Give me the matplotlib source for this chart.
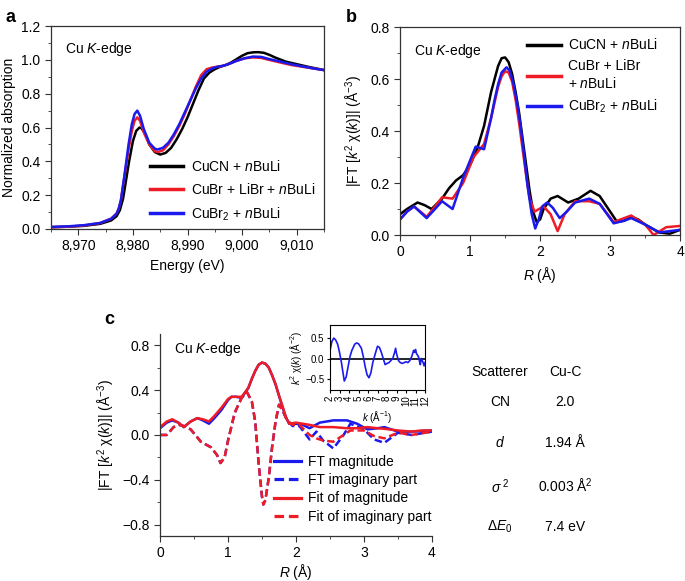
import numpy as np
import matplotlib
matplotlib.use("Agg")
import matplotlib.pyplot as plt
from matplotlib.ticker import MultipleLocator, FuncFormatter

plt.rcParams['font.family'] = ['Liberation Sans', 'DejaVu Sans']
plt.rcParams['font.size'] = 10
plt.rcParams['mathtext.fontset'] = 'custom'
plt.rcParams['mathtext.rm'] = 'Liberation Sans'
plt.rcParams['mathtext.it'] = 'Liberation Sans:italic'
plt.rcParams['xtick.direction'] = 'out'
plt.rcParams['ytick.direction'] = 'out'

# ---- panel a : XANES ----
e_cucn = [8965, 8968, 8971, 8974, 8976, 8977, 8977.6, 8978.2, 8978.7, 8979.3, 8980, 8980.6, 8981.2, 8981.6,
          8982.2, 8983, 8984, 8985, 8986, 8987, 8988, 8989, 8990, 8991, 8992, 8993, 8994, 8995,
          8996, 8997, 8998, 8999, 9000, 9001, 9002, 9003, 9004, 9005, 9006, 9008, 9010, 9012, 9015]
a_cucn = [0.01, 0.013, 0.018, 0.03, 0.05, 0.075, 0.11, 0.18, 0.28, 0.40, 0.52, 0.58, 0.60, 0.595,
          0.565, 0.50, 0.455, 0.44, 0.45, 0.48, 0.53, 0.59, 0.66, 0.74, 0.82, 0.89, 0.925, 0.945,
          0.96, 0.97, 0.985, 1.005, 1.025, 1.04, 1.045, 1.046, 1.042, 1.03, 1.015, 0.99, 0.975, 0.96, 0.94]
e_cubr = [8965, 8968, 8971, 8974, 8976, 8977, 8977.4, 8977.8, 8978.5, 8979.2, 8979.8, 8980.3, 8980.8, 8981.3,
          8982, 8983, 8984, 8984.6, 8985.5, 8986.5, 8987.5, 8988.5, 8989.5, 8990.5, 8991.5, 8992.5,
          8993.5, 8994.5, 8995.5, 8996.5, 8997.5, 8999, 9000.5, 9002, 9003.5, 9005, 9007, 9009, 9011, 9013, 9015]
a_cubr = [0.01, 0.013, 0.02, 0.035, 0.06, 0.09, 0.12, 0.17, 0.32, 0.47, 0.58, 0.64, 0.66, 0.64,
          0.57, 0.50, 0.46, 0.455, 0.465, 0.50, 0.55, 0.61, 0.68, 0.76, 0.84, 0.91,
          0.945, 0.955, 0.96, 0.965, 0.975, 0.995, 1.01, 1.015, 1.012, 1.0, 0.985, 0.97, 0.96, 0.95, 0.94]
e_cubr2 = [8965, 8968, 8971, 8974, 8976, 8977, 8977.4, 8977.8, 8978.5, 8979.2, 8979.8, 8980.3, 8980.8, 8981.3,
           8982, 8983, 8984, 8984.5, 8985.5, 8986.5, 8987.5, 8988.5, 8989.5, 8990.5, 8991.5, 8992.5,
           8993.5, 8994.5, 8995.5, 8996.5, 8997.5, 8999, 9000.5, 9002, 9003.5, 9005, 9007, 9009, 9011, 9013, 9015]
a_cubr2 = [0.012, 0.015, 0.022, 0.035, 0.06, 0.09, 0.12, 0.17, 0.33, 0.50, 0.62, 0.68, 0.70, 0.67,
           0.59, 0.51, 0.475, 0.47, 0.48, 0.51, 0.56, 0.62, 0.69, 0.76, 0.83, 0.89,
           0.93, 0.95, 0.96, 0.965, 0.975, 0.995, 1.01, 1.02, 1.018, 1.005, 0.99, 0.975, 0.962, 0.95, 0.94]

# ---- panel b : FT magnitude ----
r_b_cucn = [0, 0.1, 0.25, 0.35, 0.45, 0.6, 0.7, 0.8, 0.9, 1.0, 1.1, 1.2, 1.3, 1.35, 1.4, 1.45, 1.5, 1.55, 1.6,
            1.65, 1.7, 1.75, 1.8, 1.85, 1.9, 1.95, 2.0, 2.05, 2.15, 2.25, 2.4, 2.55, 2.72, 2.85, 3.0, 3.1,
            3.2, 3.3, 3.4, 3.5, 3.7, 3.85, 4.0]
m_b_cucn = [0.08, 0.10, 0.125, 0.115, 0.10, 0.14, 0.18, 0.21, 0.23, 0.27, 0.33, 0.42, 0.55, 0.60, 0.65, 0.68, 0.683, 0.665, 0.62,
            0.55, 0.47, 0.37, 0.27, 0.17, 0.09, 0.05, 0.06, 0.10, 0.14, 0.15, 0.125, 0.14, 0.17, 0.15, 0.09, 0.05,
            0.055, 0.07, 0.06, 0.04, 0.01, 0.005, 0.02]
r_b_cubr = [0, 0.1, 0.2, 0.38, 0.5, 0.6, 0.75, 0.9, 1.05, 1.2, 1.3, 1.35, 1.4, 1.45, 1.5, 1.55, 1.6, 1.65, 1.7,
            1.75, 1.8, 1.85, 1.92, 2.05, 2.15, 2.25, 2.35, 2.5, 2.7, 2.85, 3.05, 3.2, 3.3, 3.5, 3.62, 3.8, 4.0]
m_b_cubr = [0.06, 0.09, 0.11, 0.07, 0.11, 0.145, 0.14, 0.20, 0.30, 0.35, 0.45, 0.51, 0.57, 0.61, 0.63, 0.625, 0.59, 0.52, 0.43,
            0.33, 0.23, 0.14, 0.09, 0.11, 0.08, 0.015, 0.08, 0.13, 0.13, 0.12, 0.05, 0.065, 0.075, 0.04, 0.0, 0.03, 0.035]
r_b_cubr2 = [0, 0.1, 0.2, 0.38, 0.5, 0.6, 0.75, 0.9, 1.08, 1.2, 1.3, 1.35, 1.4, 1.45, 1.52, 1.57, 1.62, 1.67, 1.72,
             1.77, 1.82, 1.88, 1.93, 1.98, 2.03, 2.1, 2.18, 2.28, 2.38, 2.5, 2.7, 2.85, 3.05, 3.2, 3.3, 3.5, 3.7, 4.0]
m_b_cubr2 = [0.06, 0.09, 0.11, 0.065, 0.10, 0.13, 0.10, 0.22, 0.34, 0.33, 0.45, 0.52, 0.58, 0.625, 0.645, 0.63, 0.58, 0.51, 0.42,
             0.31, 0.19, 0.08, 0.025, 0.06, 0.11, 0.125, 0.105, 0.065, 0.09, 0.125, 0.14, 0.12, 0.045, 0.055, 0.065, 0.04, 0.01, 0.02]

# ---- panel c : fit ----
r_c = [0, 0.1, 0.18, 0.27, 0.35, 0.45, 0.55, 0.63, 0.72, 0.8, 0.9, 1.0, 1.05, 1.12, 1.2, 1.3, 1.35, 1.4, 1.45, 1.5,
       1.55, 1.6, 1.65, 1.7, 1.75, 1.8, 1.85, 1.9, 2.0, 2.1, 2.2, 2.35, 2.55, 2.75, 2.9, 3.05, 3.2, 3.3, 3.5, 3.7, 3.85, 4.0]
ft_mag = [0.06, 0.11, 0.13, 0.11, 0.07, 0.12, 0.15, 0.13, 0.10, 0.15, 0.22, 0.31, 0.34, 0.34, 0.33, 0.42, 0.50, 0.57, 0.625, 0.645,
          0.635, 0.60, 0.53, 0.45, 0.35, 0.25, 0.16, 0.10, 0.10, 0.09, 0.06, 0.11, 0.13, 0.13, 0.10, 0.05, 0.06, 0.07, 0.03, 0.03, 0.035, 0.04]
fit_mag = [0.07, 0.12, 0.14, 0.11, 0.07, 0.12, 0.15, 0.14, 0.12, 0.17, 0.24, 0.32, 0.34, 0.34, 0.34, 0.42, 0.50, 0.57, 0.625, 0.645,
           0.635, 0.60, 0.53, 0.45, 0.35, 0.26, 0.16, 0.10, 0.11, 0.10, 0.09, 0.07, 0.07, 0.06, 0.06, 0.07, 0.06, 0.055, 0.04, 0.03, 0.04, 0.04]
r_ci = [0, 0.1, 0.2, 0.28, 0.35, 0.45, 0.52, 0.6, 0.75, 0.84, 0.89, 0.95, 1.0, 1.1, 1.2, 1.28, 1.35, 1.4, 1.45, 1.5, 1.52,
        1.55, 1.6, 1.65, 1.7, 1.75, 1.8, 1.87, 1.95, 2.05, 2.2, 2.3, 2.4, 2.55, 2.7, 2.8, 3.0, 3.15, 3.3, 3.5, 3.7, 4.0]
ft_im = [0.0, 0.0, 0.07, 0.09, 0.08, 0.05, 0.0, -0.06, -0.11, -0.18, -0.25, -0.2, -0.05, 0.2, 0.33, 0.38, 0.30, 0.12, -0.25, -0.55, -0.62,
         -0.58, -0.38, -0.1, 0.12, 0.27, 0.22, 0.13, 0.08, 0.08, -0.04, 0.03, -0.05, -0.12, 0.0, 0.1, 0.05, -0.04, -0.07, 0.02, 0.0, 0.03]
fit_im = [0.0, 0.0, 0.07, 0.09, 0.08, 0.05, 0.0, -0.06, -0.11, -0.18, -0.25, -0.2, -0.05, 0.2, 0.33, 0.38, 0.30, 0.12, -0.25, -0.55, -0.62,
          -0.58, -0.38, -0.1, 0.12, 0.27, 0.22, 0.13, 0.09, 0.09, 0.0, -0.03, -0.05, -0.06, 0.0, 0.04, 0.04, -0.01, -0.03, 0.02, 0.0, 0.03]

# ---- inset : k-space ----
k_in = [2.0, 2.2, 2.4, 2.6, 2.8, 3.0, 3.2, 3.5, 3.7, 3.9, 4.1, 4.3, 4.6, 4.8, 5.0, 5.3, 5.5, 5.7, 5.9, 6.1, 6.3, 6.5,
        6.8, 7.0, 7.2, 7.4, 7.6, 7.8, 8.0, 8.2, 8.4, 8.6, 8.8, 8.9, 9.0, 9.2, 9.4, 9.6, 9.8, 10.0, 10.2, 10.4, 10.6,
        10.8, 10.9, 11.0, 11.1, 11.3, 11.4, 11.5, 11.6, 11.8, 11.9, 12.0]
chi_in = [0.2, 0.42, 0.5, 0.45, 0.35, 0.15, -0.1, -0.55, -0.45, -0.2, 0.05, 0.2, 0.35, 0.38, 0.36, 0.25, 0.05, -0.2, -0.4, -0.47, -0.35, -0.1,
          0.15, 0.3, 0.27, 0.15, 0.0, -0.15, -0.12, -0.1, -0.05, 0.0, 0.15, 0.25, 0.12, -0.05, -0.1, -0.12, -0.1, -0.08, -0.1, -0.05, 0.05,
          0.2, 0.15, 0.22, 0.12, 0.05, -0.05, -0.15, 0.0, -0.1, -0.18, -0.1]

labels_a = ['CuCN + $n$BuLi', 'CuBr + LiBr + $n$BuLi', 'CuBr$_2$ + $n$BuLi']
labels_b = ['CuCN + $n$BuLi', 'CuBr + LiBr\n+ $n$BuLi', 'CuBr$_2$ + $n$BuLi']
labels_c = ['FT magnitude', 'FT imaginary part', 'Fit of magnitude', 'Fit of imaginary part']
col_black, col_red, col_blue = '#000000', '#ee1c25', '#1a1aee'

table_names = ['Scatterer', 'CN', '$d$', '$\\sigma^{\\ 2}$', '$\\Delta E_0$']
table_vals = ['Cu-C', '2.0', '1.94 Å', '0.003 Å$^2$', '7.4 eV']

fig = plt.figure(figsize=(6.85, 5.81), dpi=100)


def style(ax, box=True):
    for s in ax.spines.values():
        s.set_color('#333333')
        s.set_linewidth(0.9)
    if not box:
        ax.spines['top'].set_visible(False)
        ax.spines['right'].set_visible(False)
    ax.tick_params(which='both', color='#333333')
    ax.tick_params(which='major', length=4)
    ax.tick_params(which='minor', length=2.5)


lw = 1.8

# panel a
ax1 = fig.add_axes([0.0745, 0.606, 0.3985, 0.349])
ax1.plot(e_cucn, a_cucn, color=col_black, lw=lw, label=labels_a[0])
ax1.plot(e_cubr, a_cubr, color=col_red, lw=lw, label=labels_a[1])
ax1.plot(e_cubr2, a_cubr2, color=col_blue, lw=lw, label=labels_a[2])
ax1.set_xlim(8965, 9015)
ax1.set_ylim(0, 1.2)
ax1.xaxis.set_major_locator(MultipleLocator(10))
ax1.xaxis.set_minor_locator(MultipleLocator(5))
ax1.yaxis.set_major_locator(MultipleLocator(0.2))
ax1.yaxis.set_minor_locator(MultipleLocator(0.1))
ax1.xaxis.set_major_formatter(FuncFormatter(lambda v, p: f'{v:,.0f}'))
ax1.yaxis.set_major_formatter(FuncFormatter(lambda v, p: f'{v:.1f}'))
ax1.set_xlabel('Energy (eV)')
ax1.set_ylabel('Normalized absorption')
ax1.text(0.05, 0.93, 'Cu $K$-edge', transform=ax1.transAxes, va='top')
ax1.legend(loc='lower right', bbox_to_anchor=(1.0, -0.01), frameon=False, handlelength=2.4,
           handletextpad=0.6, labelspacing=0.6, borderaxespad=0.2)
for l in ax1.get_legend().get_lines():
    l.set_linewidth(2.5)
style(ax1)

# panel b
ax2 = fig.add_axes([0.584, 0.5955, 0.409, 0.358])
ax2.plot(r_b_cucn, m_b_cucn, color=col_black, lw=lw, label=labels_b[0])
ax2.plot(r_b_cubr, m_b_cubr, color=col_red, lw=lw, label=labels_b[1])
ax2.plot(r_b_cubr2, m_b_cubr2, color=col_blue, lw=lw, label=labels_b[2])
ax2.set_xlim(0, 4)
ax2.set_ylim(0, 0.8)
ax2.xaxis.set_major_locator(MultipleLocator(1))
ax2.xaxis.set_minor_locator(MultipleLocator(0.5))
ax2.yaxis.set_major_locator(MultipleLocator(0.2))
ax2.yaxis.set_minor_locator(MultipleLocator(0.1))
ax2.yaxis.set_major_formatter(FuncFormatter(lambda v, p: f'{v:.1f}'))
ax2.set_xlabel('$R$ (Å)')
ax2.set_ylabel('|FT [$k^2$ χ($k$)]| (Å$^{−3}$)')
ax2.text(0.05, 0.93, 'Cu $K$-edge', transform=ax2.transAxes, va='top')
ax2.legend(loc='upper right', bbox_to_anchor=(0.95, 0.99), frameon=False, handlelength=2.4,
           handletextpad=0.5, labelspacing=0.5, borderaxespad=0.2)
for l in ax2.get_legend().get_lines():
    l.set_linewidth(2.5)
style(ax2)

# panel c
ax3 = fig.add_axes([0.2336, 0.0775, 0.397, 0.3477])
ax3.plot(r_c, ft_mag, color=col_blue, lw=lw, label=labels_c[0])
ax3.plot(r_ci, ft_im, color=col_blue, lw=lw, ls=(0, (3, 1.5)), label=labels_c[1])
ax3.plot(r_c, fit_mag, color=col_red, lw=lw, label=labels_c[2])
ax3.plot(r_ci, fit_im, color=col_red, lw=lw, ls=(0, (3, 1.5)), label=labels_c[3])
ax3.set_xlim(0, 4)
ax3.set_ylim(-0.9, 0.9)
ax3.xaxis.set_major_locator(MultipleLocator(1))
ax3.xaxis.set_minor_locator(MultipleLocator(0.5))
ax3.yaxis.set_major_locator(MultipleLocator(0.4))
ax3.yaxis.set_minor_locator(MultipleLocator(0.2))
ax3.yaxis.set_major_formatter(FuncFormatter(lambda v, p: f'{v:.1f}'.replace('-', '−')))
ax3.set_xlabel('$R$ (Å)', labelpad=1)
ax3.set_ylabel('|FT [$k^2$ χ($k$)]| (Å$^{−3}$)')
ax3.text(0.05, 0.97, 'Cu $K$-edge', transform=ax3.transAxes, va='top')
ax3.legend(loc='lower right', bbox_to_anchor=(1.03, 0.02), frameon=False, handlelength=2.0,
           handletextpad=0.5, labelspacing=0.3, borderaxespad=0.2)
for l in ax3.get_legend().get_lines():
    l.set_linewidth(2.3)
style(ax3, box=False)

# inset
axi = fig.add_axes([0.4818, 0.3287, 0.1387, 0.112])
axi.axhline(0, color='black', lw=1.2)
axi.plot(k_in, chi_in, color=col_blue, lw=1.2)
axi.set_xlim(2, 12)
axi.set_ylim(-0.77, 0.82)
axi.xaxis.set_major_locator(MultipleLocator(1))
axi.yaxis.set_major_locator(MultipleLocator(0.5))
axi.yaxis.set_major_formatter(FuncFormatter(lambda v, p: f'{v:.1f}'.replace('-', '−')))
axi.tick_params(labelsize=7, length=2.5, pad=1.5)
axi.tick_params(axis='x', labelrotation=90)
axi.set_xlabel('$k$ (Å$^{−1}$)', fontsize=7, labelpad=2)
axi.set_ylabel('$k^2$ χ($k$) (Å$^{−2}$)', fontsize=7, labelpad=1)

# table
table_y = [0.36, 0.308, 0.238, 0.163, 0.093]
for name, val, yy in zip(table_names, table_vals, table_y):
    fig.text(0.730, yy, name, ha='center', va='center', fontsize=10)
    fig.text(0.825, yy, val, ha='center', va='center', fontsize=10)

# panel letters
fig.text(0.008, 0.985, 'a', fontsize=13, fontweight='bold', va='top')
fig.text(0.505, 0.985, 'b', fontsize=13, fontweight='bold', va='top')
fig.text(0.152, 0.465, 'c', fontsize=13, fontweight='bold', va='top')

fig.savefig('out.png', dpi=100)
